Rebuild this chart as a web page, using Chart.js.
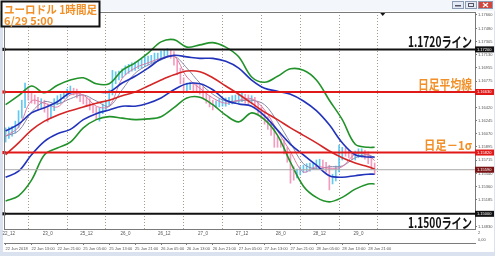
<!DOCTYPE html>
<html><head><meta charset="utf-8">
<script src="https://cdn.jsdelivr.net/npm/chart.js@4.4.1/dist/chart.umd.min.js"></script>
<style>html,body{margin:0;padding:0;background:#fff;overflow:hidden}#wrap{width:495px;height:256px}</style>
</head><body><div id="wrap"><canvas id="c" width="495" height="256"></canvas></div>
<script>
// ---- data (EUR/USD 1h, broker-time bars 22 Jun 05:00 .. 28 Jun 23:00) ----
const candleHigh = [1.1615,1.1616,1.1617,1.1624,1.1638,1.1652,1.1675,1.1670,1.1663,1.1659,
1.1656,1.1654,1.1652,1.1647,1.1646,1.1654,1.1658,1.1660,1.1663,1.1667,
1.1671,1.1668,1.1667,1.1662,1.1659,1.1656,1.1654,1.1648,1.1643,1.1642,
1.1647,1.1652,1.1666,1.1692,1.1690,1.1691,1.1694,1.1698,1.1700,1.1702,
1.1703,1.1704,1.1707,1.1710,1.1711,1.1712,1.1715,1.1715,1.1718,1.1719,
1.1721,1.1719,1.1717,1.1706,1.1695,1.1682,1.1675,1.1676,1.1675,1.1674,
1.1672,1.1670,1.1664,1.1658,1.1652,1.1651,1.1654,1.1655,1.1655,1.1656,
1.1658,1.1659,1.1660,1.1662,1.1660,1.1659,1.1658,1.1656,1.1650,1.1643,
1.1636,1.1630,1.1623,1.1616,1.1603,1.1600,1.1599,1.1589,1.1580,1.1563,
1.1560,1.1563,1.1565,1.1567,1.1568,1.1569,1.1572,1.1573,1.1572,1.1569,
1.1565,1.1553,1.1564,1.1592,1.1589,1.1588,1.1585,1.1583,1.1584,1.1587,
1.1587,1.1585,1.1583,1.1576,1.1568];
const candleLow = [1.1596,1.1601,1.1604,1.1608,1.1615,1.1628,1.1642,1.1652,1.1648,1.1647,
1.1639,1.1642,1.1636,1.1623,1.1628,1.1638,1.1646,1.1648,1.1654,1.1655,
1.1660,1.1659,1.1655,1.1650,1.1647,1.1646,1.1639,1.1635,1.1626,1.1624,
1.1634,1.1639,1.1644,1.1659,1.1674,1.1679,1.1682,1.1686,1.1688,1.1691,
1.1692,1.1694,1.1695,1.1698,1.1700,1.1702,1.1703,1.1704,1.1706,1.1708,
1.1710,1.1708,1.1699,1.1686,1.1674,1.1662,1.1664,1.1666,1.1664,1.1663,
1.1660,1.1654,1.1648,1.1643,1.1639,1.1642,1.1643,1.1644,1.1644,1.1646,
1.1647,1.1648,1.1648,1.1650,1.1648,1.1647,1.1647,1.1642,1.1634,1.1627,
1.1620,1.1613,1.1605,1.1589,1.1589,1.1589,1.1580,1.1569,1.1541,1.1545,
1.1548,1.1552,1.1555,1.1556,1.1557,1.1559,1.1560,1.1563,1.1560,1.1556,
1.1532,1.1540,1.1544,1.1556,1.1572,1.1577,1.1575,1.1572,1.1572,1.1575,
1.1576,1.1573,1.1567,1.1559,1.1553];
const candleClose = [1.1605,1.1609,1.1612,1.1619,1.1632,1.1646,1.1666,1.1659,1.1655,1.1652,
1.1646,1.1648,1.1643,1.1632,1.1642,1.1648,1.1652,1.1656,1.1659,1.1663,
1.1666,1.1664,1.1659,1.1655,1.1652,1.1650,1.1644,1.1639,1.1634,1.1636,
1.1643,1.1648,1.1662,1.1679,1.1683,1.1686,1.1690,1.1692,1.1696,1.1696,
1.1698,1.1699,1.1702,1.1704,1.1706,1.1707,1.1710,1.1710,1.1712,1.1714,
1.1715,1.1712,1.1703,1.1692,1.1679,1.1668,1.1670,1.1671,1.1670,1.1668,
1.1666,1.1660,1.1654,1.1648,1.1646,1.1647,1.1648,1.1650,1.1650,1.1651,
1.1652,1.1654,1.1654,1.1655,1.1654,1.1652,1.1652,1.1647,1.1639,1.1632,
1.1626,1.1619,1.1612,1.1599,1.1596,1.1595,1.1585,1.1576,1.1559,1.1552,
1.1555,1.1557,1.1560,1.1561,1.1563,1.1564,1.1567,1.1568,1.1565,1.1561,
1.1545,1.1548,1.1559,1.1575,1.1585,1.1583,1.1579,1.1576,1.1579,1.1581,
1.1581,1.1579,1.1572,1.1564,1.1559];

// indicator lines, sampled at these bar indices
const lineIdx = [0,4,8,12,16,20,24,28,32,36,40,44,48,52,56,60,64,68,72,76,80,84,88,92,96,100,104,108,112,114];
const bbUpper2 = [1.1646,1.1658,1.1671,1.1662,1.1672,1.1679,1.1682,1.1674,1.1674,1.1692,1.1702,1.1715,1.1730,1.1733,1.1723,1.1726,1.1729,1.1723,1.1710,1.1683,1.1676,1.1684,1.1694,1.1692,1.1679,1.1652,1.1626,1.1593,1.1589,1.1589];
const bbUpper1 = [1.1611,1.1620,1.1635,1.1642,1.1650,1.1662,1.1663,1.1663,1.1663,1.1675,1.1684,1.1695,1.1707,1.1712,1.1710,1.1708,1.1708,1.1704,1.1695,1.1679,1.1668,1.1664,1.1660,1.1651,1.1638,1.1619,1.1595,1.1579,1.1576,1.1576];
const maRed    = [1.1579,1.1595,1.1612,1.1624,1.1632,1.1638,1.1643,1.1648,1.1652,1.1658,1.1663,1.1671,1.1679,1.1686,1.1691,1.1690,1.1682,1.1671,1.1660,1.1648,1.1636,1.1626,1.1615,1.1605,1.1595,1.1584,1.1575,1.1568,1.1563,1.1560];
const bbLower1 = [1.1549,1.1557,1.1579,1.1597,1.1607,1.1613,1.1626,1.1634,1.1639,1.1644,1.1644,1.1648,1.1655,1.1666,1.1674,1.1674,1.1666,1.1652,1.1647,1.1644,1.1631,1.1612,1.1593,1.1579,1.1565,1.1551,1.1549,1.1551,1.1553,1.1553];
const bbLower2 = [1.1517,1.1524,1.1545,1.1579,1.1588,1.1596,1.1615,1.1626,1.1630,1.1628,1.1626,1.1627,1.1630,1.1642,1.1655,1.1656,1.1646,1.1632,1.1623,1.1635,1.1626,1.1605,1.1569,1.1537,1.1522,1.1516,1.1522,1.1533,1.1540,1.1540];
const maFast   = [1.1604,1.1616,1.1651,1.1648,1.1643,1.1659,1.1659,1.1644,1.1644,1.1681,1.1695,1.1702,1.1708,1.1711,1.1683,1.1668,1.1655,1.1648,1.1652,1.1654,1.1639,1.1611,1.1583,1.1556,1.1563,1.1561,1.1563,1.1580,1.1579,1.1571];
const maSlow   = [1.1604,1.1611,1.1636,1.1650,1.1647,1.1654,1.1659,1.1651,1.1644,1.1666,1.1688,1.1699,1.1706,1.1711,1.1695,1.1675,1.1660,1.1651,1.1651,1.1652,1.1646,1.1623,1.1595,1.1567,1.1560,1.1563,1.1564,1.1575,1.1579,1.1575];

// horizontal levels
const levelValues = [1.1720, 1.1663, 1.1582, 1.1500];
const levelLabels = ['1.1720ライン', '日足平均線', '日足－1σ', '1.1500ライン'];
const currentPrice = 1.1559;

// axis ticks
const yTicks = [1.17660,1.17480,1.17305,1.17130,1.16955,1.16775,1.16600,1.16420,1.16245,1.16070,1.15895,1.15715,1.15540,1.15360,1.15185,1.15010,1.14830];
const timeTickIdx = [0,8,16,24,32,40,48,56,64,72,80,88,96,104,112];
const timeTickLabels = ['22 Jun 2018','22 Jun 13:00','22 Jun 21:00','25 Jun 05:00','25 Jun 13:00','25 Jun 21:00','26 Jun 05:00','26 Jun 13:00','26 Jun 21:00','27 Jun 05:00','27 Jun 13:00','27 Jun 21:00','28 Jun 05:00','28 Jun 13:00','28 Jun 21:00'];
const jstTickIdx = [1,13,25,37,49,61,73,85,97,109];
const jstTickLabels = ['22_12','23_0','25_12','26_0','26_12','27_0','27_12','28_0','28_12','29_0'];
const titleLines = ['ユーロドル 1時間足', '6/29 5:00'];

// ---- chart ----
const X_MIN = -0.5, X_MAX = 145, Y_MIN = 1.14797, Y_MAX = 1.17700;
const barIdx = candleClose.map((_, i) => i);
const pts = arr => lineIdx.map((x, i) => ({x, y: arr[i]}));
const UP = 'rgba(70,190,240,0.85)', DOWN = 'rgba(240,140,180,0.85)';
const ORANGE = '#f19029';
const levelColors = ['#111111', '#e01818', '#e01818', '#111111'];

const datasets = [];
levelValues.forEach((v, i) => datasets.push({
  type: 'line', data: [{x: X_MIN, y: v}, {x: X_MAX, y: v}],
  borderColor: levelColors[i], borderWidth: 2,
  pointRadius: [2.2, 0], pointStyle: 'rect', pointBackgroundColor: levelColors[i], pointBorderWidth: 0,
  clip: false, order: 0
}));
datasets.push({type: 'line', data: [{x: X_MIN, y: currentPrice}, {x: X_MAX, y: currentPrice}],
  borderColor: '#a8a8a8', borderWidth: 1, pointRadius: 0, order: 1});
const lineDs = (arr, color, w, ord) => ({type: 'line', data: pts(arr), borderColor: color, borderWidth: w,
  pointRadius: 0, tension: 0.35, fill: false, order: ord});
datasets.push(lineDs(bbUpper2, '#22922a', 1.6, 2));
datasets.push(lineDs(bbLower2, '#22922a', 1.6, 2));
datasets.push(lineDs(bbUpper1, '#2233bb', 1.6, 2));
datasets.push(lineDs(bbLower1, '#2233bb', 1.6, 2));
datasets.push(lineDs(maRed, '#d42626', 1.6, 2));
datasets.push(lineDs(maFast, '#de7aa6', 1, 3));
datasets.push(lineDs(maSlow, '#8a8aa8', 1, 3));
datasets.push({
  type: 'bar', data: barIdx.map(i => ({x: i, y: [candleLow[i], candleHigh[i]]})),
  backgroundColor: barIdx.map(i => (i > 0 && candleClose[i] < candleClose[i - 1]) ? DOWN : UP),
  barThickness: 1, order: 5
});

const deco = {
  id: 'deco',
  beforeDraw(chart) {
    const ctx = chart.ctx;
    ctx.save();
    ctx.fillStyle = '#d9e2ee'; ctx.fillRect(0, 0, 495, 256);
    ctx.fillStyle = '#f3f6fa'; ctx.fillRect(0, 0, 495, 11);
    ctx.fillStyle = '#ffffff'; ctx.fillRect(3, 11, 491, 241);
    ctx.restore();
  },
  afterDraw(chart) {
    const ctx = chart.ctx, ys = chart.scales.y, xs = chart.scales.x, a = chart.chartArea;
    ctx.save();
    // frame
    ctx.strokeStyle = '#7a7a7a'; ctx.lineWidth = 1;
    ctx.strokeRect(a.left + 0.5, a.top + 0.5, a.right - a.left, a.bottom - a.top);
    // window buttons
    const btn = (x, w, fill) => { ctx.fillStyle = fill; ctx.fillRect(x, 1, w, 8); ctx.strokeStyle = '#8a9bb3'; ctx.strokeRect(x + 0.5, 1.5, w - 1, 7); };
    btn(452, 12, '#e4ebf4'); btn(465, 12, '#e4ebf4'); btn(478, 15, '#d2473d');
    ctx.fillStyle = '#556'; ctx.fillRect(455, 5, 6, 1.5);
    ctx.strokeStyle = '#556'; ctx.strokeRect(468.5, 3.5, 5, 3);
    ctx.strokeStyle = '#fff'; ctx.lineWidth = 1.2; ctx.beginPath();
    ctx.moveTo(483, 3); ctx.lineTo(488, 7); ctx.moveTo(488, 3); ctx.lineTo(483, 7); ctx.stroke();
    // shift marker
    ctx.fillStyle = '#111'; ctx.beginPath();
    const sx = xs.getPixelForValue(116.5);
    ctx.moveTo(sx - 2.5, a.top + 1); ctx.lineTo(sx + 2.5, a.top + 1); ctx.lineTo(sx, a.top + 4); ctx.fill();
    // level labels
    const lbl = (txt, yb, color, size, maxW) => {
      ctx.font = 'bold ' + size + 'px "Noto Sans CJK JP", sans-serif';
      ctx.fillStyle = color; ctx.textAlign = 'right'; ctx.textBaseline = 'alphabetic';
      ctx.fillText(txt, 472, yb, maxW);
    };
    const py = levelValues.map(v => ys.getPixelForValue(v));
    lbl(levelLabels[0], py[0] - 2, '#111', 14, 64);
    lbl(levelLabels[1], py[1] - 3, ORANGE, 13, 54);
    lbl(levelLabels[2], py[2] - 3, ORANGE, 12.5, 48);
    lbl(levelLabels[3], py[3] + 14, '#111', 14, 64);
    // axis value boxes
    const box = (v, bg) => {
      const p = ys.getPixelForValue(v);
      ctx.fillStyle = bg; ctx.fillRect(a.right, p - 3, 19, 6);
      ctx.fillStyle = '#fff'; ctx.font = '4px "Liberation Sans"'; ctx.textAlign = 'left'; ctx.textBaseline = 'middle';
      ctx.fillText(v.toFixed(5), a.right + 2, p + 0.3);
    };
    box(levelValues[0], '#111'); box(levelValues[1], '#e01818'); box(levelValues[2], '#e01818');
    box(currentPrice, '#7a1414'); box(levelValues[3], '#111');
    // sub-window scale text
    ctx.fillStyle = '#555'; ctx.font = '4px "Liberation Sans"'; ctx.textAlign = 'left'; ctx.textBaseline = 'middle';
    ctx.fillText('2', a.right + 3, a.bottom + 4); ctx.fillText('0,00', a.right + 3, a.bottom + 11);
    // title box
    ctx.fillStyle = '#fff'; ctx.fillRect(1, 1, 99, 26);
    ctx.strokeStyle = '#111'; ctx.lineWidth = 2; ctx.strokeRect(1.5, 1.5, 98, 25);
    ctx.fillStyle = ORANGE; ctx.textAlign = 'left'; ctx.textBaseline = 'alphabetic';
    ctx.font = 'bold 11px "Noto Sans CJK JP", sans-serif';
    ctx.fillText(titleLines[0], 4, 13.5, 93);
    ctx.fillText(titleLines[1], 4, 24.5, 64);
    ctx.restore();
  }
};

new Chart(document.getElementById('c'), {
  type: 'line',
  data: {datasets},
  options: {
    responsive: false, animation: false, devicePixelRatio: 1,
    layout: {padding: {left: 4, top: 12, right: 0, bottom: 0}},
    plugins: {legend: {display: false}, tooltip: {enabled: false}},
    scales: {
      x: {
        type: 'linear', position: 'bottom', min: X_MIN, max: X_MAX, offset: false,
        afterBuildTicks: s => { s.ticks = jstTickIdx.map(v => ({value: v})); },
        afterFit: s => { s.height = 14; },
        ticks: {autoSkip: false, maxRotation: 0, padding: 2, color: '#555',
          font: {size: 4.5, family: 'Liberation Sans'}, callback: (v, i) => jstTickLabels[i]},
        grid: {color: '#a49a90', lineWidth: 1, drawTicks: false, drawOnChartArea: true},
        border: {display: true, color: '#7a7a7a', dash: [1, 2]}
      },
      x2: {
        type: 'linear', position: 'bottom', min: X_MIN, max: X_MAX, offset: false,
        afterBuildTicks: s => { s.ticks = timeTickIdx.map(v => ({value: v})); },
        afterFit: s => { s.height = 13; },
        ticks: {autoSkip: false, maxRotation: 0, align: 'start', padding: 1, color: '#555',
          font: {size: 4, family: 'Liberation Sans'}, callback: (v, i) => timeTickLabels[i]},
        grid: {drawOnChartArea: false, drawTicks: true, tickLength: 2, color: '#7a7a7a'},
        border: {display: true, color: '#7a7a7a'}
      },
      y: {
        type: 'linear', position: 'right', min: Y_MIN, max: Y_MAX,
        afterBuildTicks: s => { s.ticks = yTicks.map(v => ({value: v})); },
        afterFit: s => { s.width = 20; },
        ticks: {autoSkip: false, padding: 1, color: '#555',
          font: {size: 4, family: 'Liberation Sans'}, callback: v => v.toFixed(5)},
        grid: {drawOnChartArea: false, tickLength: 2, color: '#7a7a7a'},
        border: {display: true, color: '#7a7a7a'}
      }
    }
  },
  plugins: [deco]
});
</script>
</body></html>
